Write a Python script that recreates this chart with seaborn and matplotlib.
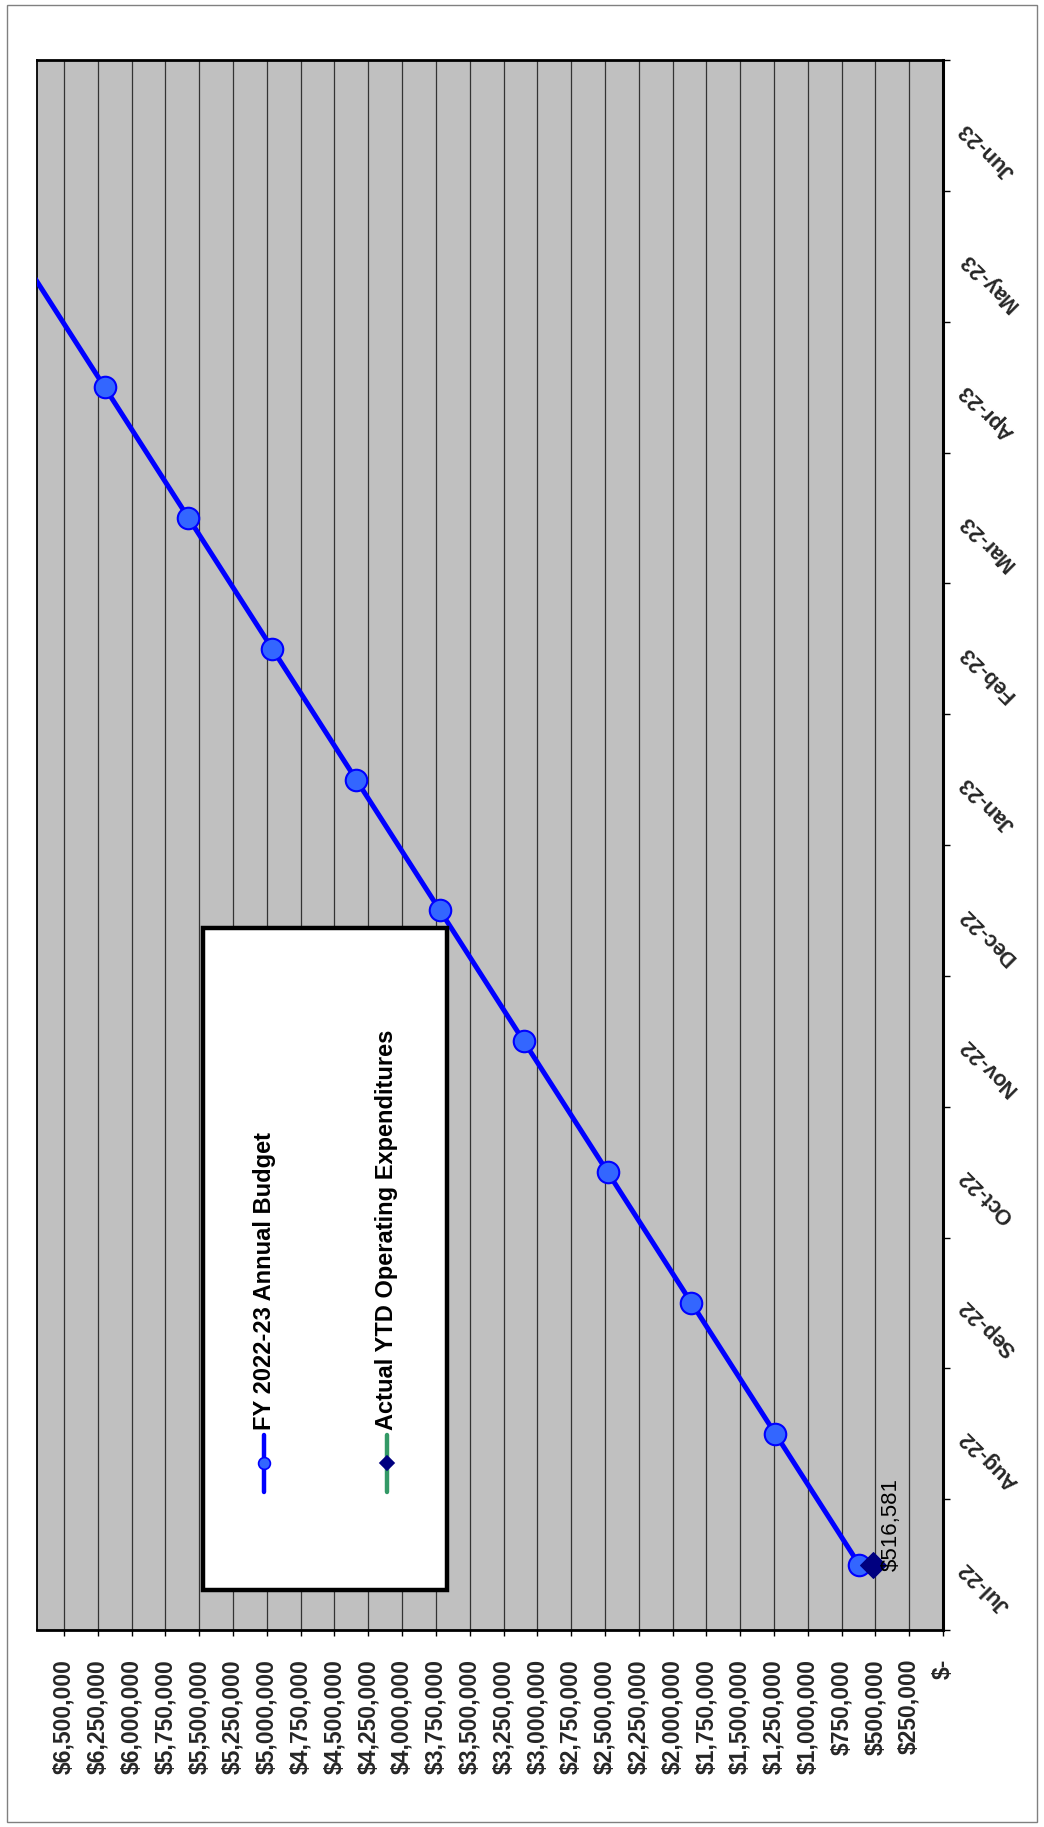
#!/usr/bin/env python3

import numpy as np
import pandas as pd
import matplotlib
matplotlib.use("Agg")
import matplotlib.pyplot as plt
import seaborn as sns
from matplotlib.patches import Rectangle
from matplotlib.lines import Line2D
from matplotlib.ticker import FixedLocator, FuncFormatter

# Chart data
months = ['Jul-22', 'Aug-22', 'Sep-22', 'Oct-22', 'Nov-22', 'Dec-22',
          'Jan-23', 'Feb-23', 'Mar-23', 'Apr-23', 'May-23', 'Jun-23']
budget = [620000, 1240000, 1860000, 2480000, 3100000, 3720000,
          4340000, 4960000, 5580000, 6200000, 6820000, 7440000]
actual_months = ['Jul-22']
actual = [516581]
actual_label = '$516,581'
value_ticks = list(range(0, 6500001, 250000))
value_max = 6700000
legend_labels = ['FY 2022-23 Annual Budget', 'Actual YTD Operating Expenditures']

W, H = 1044, 1827


def fx(px):
    return px / W


def fy(py):
    return 1 - py / H


def money(v, pos=None):
    if v == 0:
        return '$-'
    return '${:,.0f}'.format(v)


sns.set_theme(style='white')
plt.rcParams['font.family'] = ['Liberation Sans', 'DejaVu Sans']
plt.rcParams['font.weight'] = 'bold'

pos = {m: i for i, m in enumerate(months)}
df_budget = pd.DataFrame({'value': budget, 'month': [pos[m] for m in months]})
df_actual = pd.DataFrame({'value': actual, 'month': [pos[m] for m in actual_months]})

fig = plt.figure(figsize=(W / 100, H / 100), dpi=100)
fig.patch.set_facecolor('white')
ax = fig.add_axes([fx(37), fy(1630), fx(943) - fx(37), fy(60) - fy(1630)])
ax.set_facecolor('#C0C0C0')

# budget line (chart is drawn rotated: months run up, dollars run left)
sns.lineplot(data=df_budget, x='value', y='month', orient='y', sort=False,
             color='#0000FF', lw=3.6, marker='o', markersize=15.5,
             markerfacecolor='#3366FF', markeredgecolor='#0000FF',
             markeredgewidth=1.5, ax=ax, zorder=4)
sns.lineplot(data=df_actual, x='value', y='month', orient='y', sort=False,
             color='#339966', lw=3, marker='D', markersize=13.5,
             markerfacecolor='#000080', markeredgecolor='#000080',
             ax=ax, zorder=5)
ax.annotate(actual_label, xy=(actual[0], pos[actual_months[0]]),
            xytext=(18, -6), textcoords='offset pixels', rotation=90,
            ha='center', va='bottom', fontsize=16, fontweight='normal',
            color='black', zorder=6)

ax.set_xlim(value_max, 0)
ax.set_ylim(-0.5, len(months) - 0.5)

# value axis (bottom)
ax.xaxis.set_major_locator(FixedLocator(value_ticks))
ax.xaxis.set_major_formatter(FuncFormatter(money))
ax.tick_params(axis='x', which='major', bottom=True, direction='out',
               length=4.3, width=1, color='black', pad=16.5,
               labelsize=16.5, labelrotation=90)
ax.grid(axis='x', color='#333333', lw=0.9)
ax.grid(axis='y', visible=False)

# month axis (right side)
ax.yaxis.tick_right()
ax.set_yticks(range(len(months)))
ax.set_yticklabels(months, rotation=135, ha='right', va='center',
                   rotation_mode='anchor', fontweight='bold', fontsize=15.5)
ax.set_yticks(np.arange(-0.5, len(months), 1.0), minor=True)
ax.tick_params(axis='y', which='major', length=0, pad=14.5, right=True, left=False)
ax.tick_params(axis='y', which='minor', length=5, width=1, color='black',
               direction='out', right=True, left=False)
ax.set_xlabel('')
ax.set_ylabel('')

for side, lw in [('top', 2), ('right', 2.2), ('bottom', 2), ('left', 1.3)]:
    ax.spines[side].set_visible(True)
    ax.spines[side].set_color('black')
    ax.spines[side].set_linewidth(lw)

# legend, drawn by hand since the whole chart is turned on its side
fig.add_artist(Rectangle((fx(203), fy(1590)), fx(447) - fx(203), fy(928) - fy(1590),
                         transform=fig.transFigure, facecolor='white',
                         edgecolor='black', lw=3.2, zorder=10))
sym_x = [264, 387]
styles = [dict(color='#0000FF', marker='o', mfc='#3366FF', mec='#0000FF', ms=8.5),
          dict(color='#339966', marker='D', mfc='#000080', mec='#000080', ms=7)]
for x, st, label in zip(sym_x, styles, legend_labels):
    fig.add_artist(Line2D([fx(x), fx(x)], [fy(1492), fy(1435)],
                          transform=fig.transFigure, color=st['color'],
                          lw=3.2, solid_capstyle='round', zorder=11))
    fig.add_artist(Line2D([fx(x)], [fy(1463)], transform=fig.transFigure,
                          marker=st['marker'], markersize=st['ms'],
                          markerfacecolor=st['mfc'], markeredgecolor=st['mec'],
                          markeredgewidth=1.2, linestyle='none', zorder=12))
    fig.text(fx(x), fy(1430), label, rotation=90, ha='center', va='bottom',
             fontsize=17, fontweight='bold', color='black', zorder=12)

# thin outer frame of the chart object
fig.add_artist(Rectangle((fx(6.5), fy(1822)), fx(1037) - fx(6.5), fy(4.5) - fy(1822),
                         transform=fig.transFigure, fill=False,
                         edgecolor='#808080', lw=1, zorder=20))

# make sure all tick labels come out bold
fig.canvas.draw()
for lab in ax.get_xticklabels() + ax.get_yticklabels():
    lab.set_fontweight('heavy')

fig.savefig('out.png', dpi=100)
plt.close(fig)
